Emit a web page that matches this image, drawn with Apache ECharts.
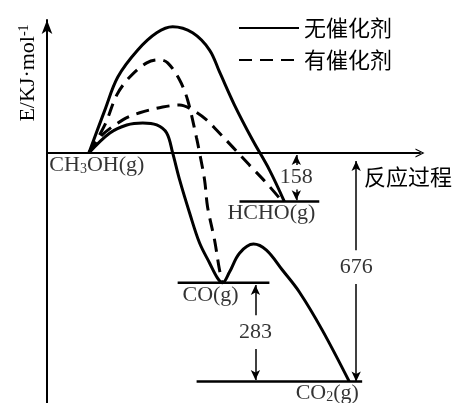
<!DOCTYPE html>
<html>
<head>
<meta charset="utf-8"/>
<title></title>
<script src="https://cdn.jsdelivr.net/npm/echarts@6/dist/echarts.min.js"></script>
<style>
html,body{margin:0;padding:0;background:#fff;}
#chart{width:455px;height:403px;}
</style>
</head>
<body>
<div id="chart"></div>
<script type="text/javascript">
// 横轴: 反应进程 (任意单位), 纵轴: E / kJ·mol-1
var noCatHCHO = [[42,0],[58,127],[71,225],[91,305],[110,356],[126,374],[146,356],[163,305],[173,240],[188,142],[206,39],[223,-50],[238,-144]];
var noCatCO = [[42,0],[63,59],[80,83],[96,89],[110,83],[120,59],[126,0],[133,-80],[143,-178],[153,-267],[163,-326],[171,-371],[176,-385],[183,-353],[193,-297],[207,-270],[220,-288],[236,-347],[253,-412],[276,-525],[303,-677]];
var catCO = [[42,0],[58,83],[70,172],[83,225],[100,267],[113,276],[121,267],[133,216],[141,157],[150,44],[153,0],[158,-80],[161,-160],[168,-258],[173,-347],[176,-385]];
var catHCHO = [[42,0],[53,47],[76,98],[93,119],[116,136],[133,142],[146,127],[160,98],[170,68],[186,18],[203,-36],[220,-89],[236,-144]];

// 能级
var levelE = [-144, -385, -677];
var levelFrom = [193, 131, 150];
var levelTo = [273, 223, 316];

// 物质标签
var speciesText = ['CH{s|3}OH(g)', 'HCHO(g)', 'CO(g)', 'CO{s|2}(g)'];
var speciesX = [50, 225, 164, 281];
var speciesE = [0, -144, -385, -677];

// 能量差
var gapText = ['158', '283', '676'];
var gapX = [250, 209, 310];
var gapHi = [0, -385, 0];
var gapLo = [-144, -677, -677];

var names = ['无催化剂', '有催化剂'];

var myChart = echarts.init(document.getElementById('chart'));

var serif = 'Liberation Serif';
var rich = {
    s: {fontSize: 14, fontFamily: serif, color: '#000', verticalAlign: 'bottom'}
};

function curve(name, data, dashed) {
    return {
        name: name,
        type: 'line',
        data: data,
        smooth: 0.35,
        symbol: 'none',
        silent: true,
        z: 5,
        lineStyle: {color: '#000', width: 3, type: dashed ? [13, 8] : 'solid'},
        itemStyle: {color: '#000'}
    };
}

var series = [
    curve(names[0], noCatHCHO, false),
    curve(names[0], noCatCO, false),
    curve(names[1], catCO, true),
    curve(names[1], catHCHO, true)
];

// 能级线
for (var i = 0; i < levelE.length; i++) {
    series.push({
        type: 'line',
        data: [[levelFrom[i], levelE[i]], [levelTo[i], levelE[i]]],
        symbol: 'none',
        silent: true,
        lineStyle: {color: '#000', width: 2.5}
    });
}

// 箭头
var halfGap = [36, 50, 50];
var padHi = [6, 6, 24];
var padLo = [4, 4, 0];
var arrows = [];
for (var j = 0; j < gapText.length; j++) {
    var mid = (gapHi[j] + gapLo[j]) / 2;
    arrows.push([{coord: [gapX[j], mid + halfGap[j]]}, {coord: [gapX[j], gapHi[j] - padHi[j]]}]);
    arrows.push([{coord: [gapX[j], mid - halfGap[j]]}, {coord: [gapX[j], gapLo[j] + padLo[j]]}]);
}
series.push({
    type: 'line',
    data: [],
    markLine: {
        silent: true,
        animation: false,
        symbol: ['none', 'arrow'],
        symbolSize: [7, 10],
        label: {show: false},
        lineStyle: {color: '#000', width: 1.5, type: 'solid'},
        data: arrows
    }
});

// 文字
var labelData = [];
for (var k = 0; k < speciesText.length; k++) {
    labelData.push({value: [speciesX[k], speciesE[k]], name: speciesText[k], label: {position: 'bottom', distance: 1}});
}
for (var m = 0; m < gapText.length; m++) {
    labelData.push({value: [gapX[m], (gapHi[m] + gapLo[m]) / 2], name: gapText[m], label: {position: 'inside'}});
}
series.push({
    type: 'scatter',
    symbolSize: 0,
    silent: true,
    z: 6,
    data: labelData,
    label: {
        show: true,
        formatter: '{b}',
        color: '#000',
        fontSize: 22,
        fontFamily: serif,
        rich: rich
    }
});

var option = {
    animation: false,
    backgroundColor: '#fff',
    grid: {left: 47, right: 34, top: 20, bottom: 0},
    legend: {
        data: names,
        orient: 'vertical',
        left: 238,
        top: 17,
        padding: 0,
        itemWidth: 60,
        itemHeight: 14,
        itemGap: 10,
        selectedMode: false,
        itemStyle: {opacity: 0},
        textStyle: {fontSize: 22, color: '#000', fontFamily: 'Noto Sans CJK SC'}
    },
    xAxis: {
        type: 'value',
        min: 0,
        max: 374,
        name: '反应过程',
        nameLocation: 'end',
        nameGap: 32,
        nameTextStyle: {fontSize: 22, color: '#000', fontFamily: 'Noto Sans CJK SC', align: 'right', verticalAlign: 'top', padding: [13, 0, 0, 0]},
        axisLine: {
            onZero: true,
            lineStyle: {color: '#000', width: 2},
            symbol: ['none', 'path://M0,12 L6,0 L12,12 L10.4,12 L6,3.2 L1.6,12 Z'],
            symbolSize: [13, 9]
        },
        axisTick: {show: false},
        axisLabel: {show: false},
        splitLine: {show: false}
    },
    yAxis: {
        type: 'value',
        min: -741,
        max: 394,
        axisLine: {
            show: true,
            onZero: false,
            lineStyle: {color: '#000', width: 2},
            symbol: ['none', 'arrow'],
            symbolSize: [8, 14]
        },
        axisTick: {show: false},
        axisLabel: {show: false},
        splitLine: {show: false}
    },
    graphic: [{
        type: 'text',
        x: 28,
        y: 73,
        rotation: Math.PI / 2,
        style: {
            text: '{a|E/KJ·mol}{b|-1}',
            align: 'center',
            verticalAlign: 'middle',
            rich: {
                a: {fontSize: 22, fontFamily: serif, fill: '#000'},
                b: {fontSize: 14, fontFamily: serif, fill: '#000', verticalAlign: 'top'}
            }
        }
    }],
    series: series
};
myChart.setOption(option);
</script>
</body>
</html>
